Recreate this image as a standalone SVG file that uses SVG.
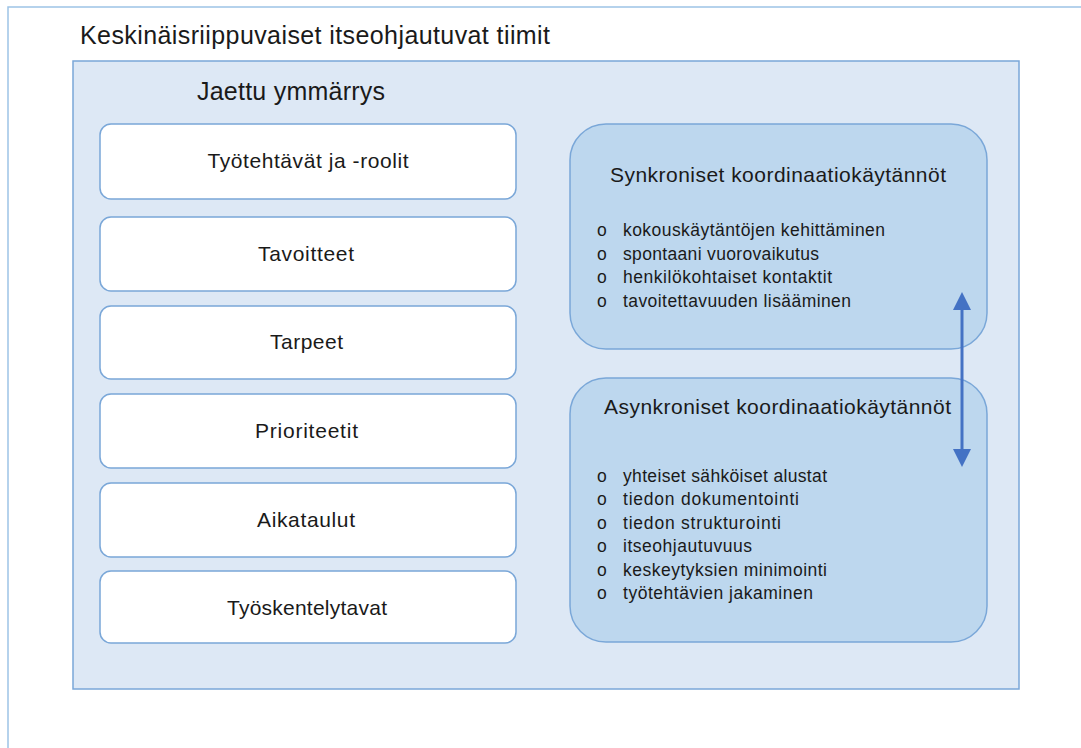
<svg xmlns="http://www.w3.org/2000/svg" width="1081" height="748" viewBox="0 0 1081 748">
<defs>
<style>
.t{font-family:"Liberation Sans",Arial,sans-serif;fill:#1a1a1a}
.box{fill:#ffffff;stroke:#7aa7d8;stroke-width:1.5}
.blue{fill:#bdd7ee;stroke:#7aa7d8;stroke-width:1.5}
.lbl{font-size:21px;text-anchor:middle}
.hd{font-size:21px;text-anchor:middle}
.li{font-size:17.5px}
</style>
<marker id="ah" markerWidth="6" markerHeight="6" refX="3" refY="3" orient="auto-start-reverse" markerUnits="strokeWidth" viewBox="0 0 6 6">
<path d="M0,0 L6,3 L0,6 z" fill="#4472c4"/>
</marker>
</defs>
<rect x="0" y="0" width="1081" height="748" fill="#ffffff"/>
<g id="outer">
<rect x="8" y="7" width="1090" height="760" fill="#ffffff" stroke="#9dc3e6" stroke-width="1.5"/>
<text class="t" x="80" y="44" font-size="25" textLength="470" lengthAdjust="spacing">Keskinäisriippuvaiset itseohjautuvat tiimit</text>
</g>
<g id="shared">
<rect x="73" y="61" width="946" height="628" fill="#dde8f5" stroke="#7aa7d8" stroke-width="1.5"/>
<text class="t" x="197" y="100" font-size="25" textLength="188" lengthAdjust="spacing">Jaettu ymmärrys</text>
</g>
<g id="n1"><rect class="box" x="100" y="124" width="416" height="75" rx="11"/><text class="t lbl" x="308" y="168" textLength="201" lengthAdjust="spacing">Työtehtävät ja -roolit</text></g>
<g id="n2"><rect class="box" x="100" y="217" width="416" height="74" rx="11"/><text class="t lbl" x="306" y="261" textLength="96" lengthAdjust="spacing">Tavoitteet</text></g>
<g id="n3"><rect class="box" x="100" y="306" width="416" height="73" rx="11"/><text class="t lbl" x="306.5" y="349" textLength="73" lengthAdjust="spacing">Tarpeet</text></g>
<g id="n4"><rect class="box" x="100" y="394" width="416" height="74" rx="11"/><text class="t lbl" x="306.5" y="438" textLength="103" lengthAdjust="spacing">Prioriteetit</text></g>
<g id="n5"><rect class="box" x="100" y="483" width="416" height="74" rx="11"/><text class="t lbl" x="306" y="527" textLength="98" lengthAdjust="spacing">Aikataulut</text></g>
<g id="n6"><rect class="box" x="100" y="571" width="416" height="72" rx="11"/><text class="t lbl" x="307" y="615" textLength="160" lengthAdjust="spacing">Työskentelytavat</text></g>
<g id="sync">
<rect class="blue" x="570" y="124" width="417" height="225" rx="36"/>
<text class="t hd" x="778" y="182" textLength="336" lengthAdjust="spacing">Synkroniset koordinaatiokäytännöt</text>
<g class="t li">
<text x="597" y="236">o</text><text x="623" y="236" textLength="262" lengthAdjust="spacing">kokouskäytäntöjen kehittäminen</text>
<text x="597" y="260">o</text><text x="623" y="260" textLength="196" lengthAdjust="spacing">spontaani vuorovaikutus</text>
<text x="597" y="283">o</text><text x="623" y="283" textLength="209" lengthAdjust="spacing">henkilökohtaiset kontaktit</text>
<text x="597" y="307">o</text><text x="623" y="307" textLength="228" lengthAdjust="spacing">tavoitettavuuden lisääminen</text>
</g>
</g>
<g id="async">
<rect class="blue" x="570" y="378" width="417" height="264" rx="36"/>
<text class="t hd" x="777.5" y="414" textLength="347" lengthAdjust="spacing">Asynkroniset koordinaatiokäytännöt</text>
<g class="t li">
<text x="597" y="482">o</text><text x="623" y="482" textLength="204" lengthAdjust="spacing">yhteiset sähköiset alustat</text>
<text x="597" y="505">o</text><text x="623" y="505" textLength="176" lengthAdjust="spacing">tiedon dokumentointi</text>
<text x="597" y="529">o</text><text x="623" y="529" textLength="158" lengthAdjust="spacing">tiedon strukturointi</text>
<text x="597" y="552">o</text><text x="623" y="552" textLength="129" lengthAdjust="spacing">itseohjautuvuus</text>
<text x="597" y="576">o</text><text x="623" y="576" textLength="204" lengthAdjust="spacing">keskeytyksien minimointi</text>
<text x="597" y="599">o</text><text x="623" y="599" textLength="190" lengthAdjust="spacing">työtehtävien jakaminen</text>
</g>
</g>
<g id="connectors">
<line x1="962" y1="301" x2="962" y2="458" stroke="#4472c4" stroke-width="3" marker-start="url(#ah)" marker-end="url(#ah)"/>
</g>
</svg>
